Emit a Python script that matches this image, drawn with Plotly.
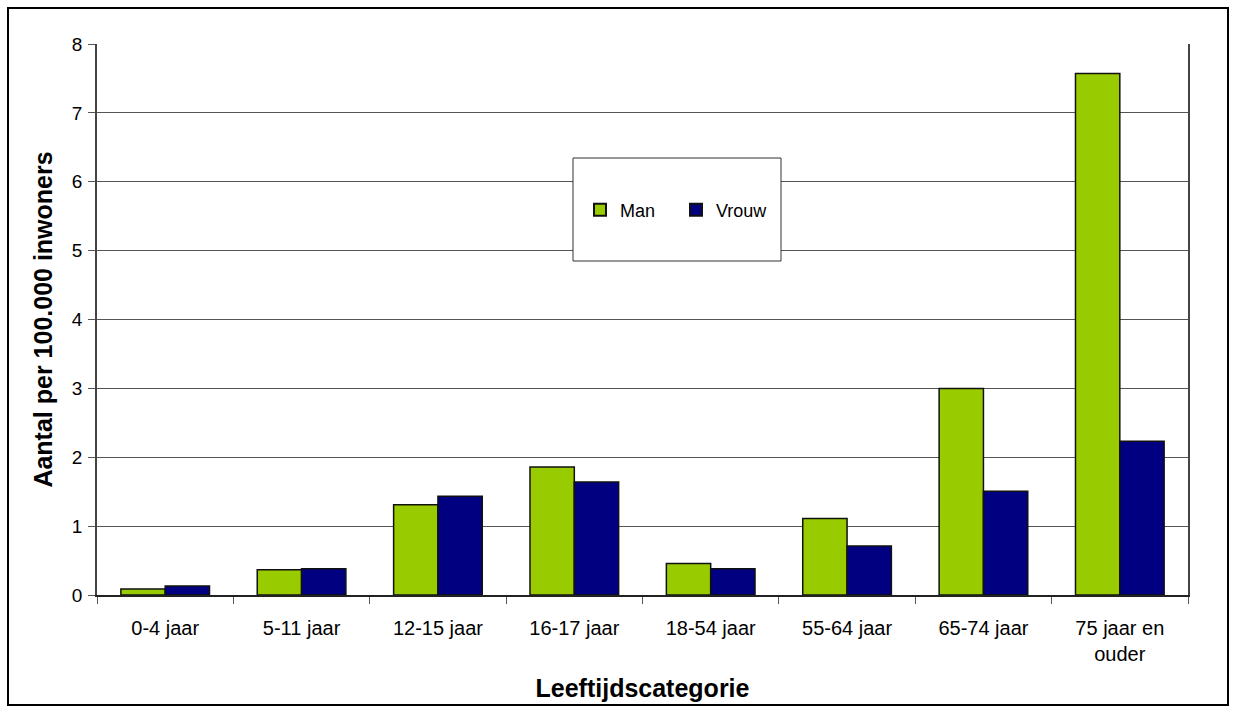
import plotly.graph_objects as go

categories = ["0-4 jaar", "5-11 jaar", "12-15 jaar", "16-17 jaar", "18-54 jaar",
              "55-64 jaar", "65-74 jaar", "75 jaar en<br>ouder"]
man = [0.087, 0.367, 1.31, 1.86, 0.456, 1.11, 3.0, 7.57]
vrouw = [0.13, 0.38, 1.435, 1.64, 0.38, 0.71, 1.505, 2.233]
y_ticks = [0, 1, 2, 3, 4, 5, 6, 7, 8]

W, H = 1235, 713
L, R, T, B = 97, 47, 44, 118
pw, ph = W - L - R, H - T - B


def px_x(x):
    return (x - L) / pw


def px_y(y):
    return (H - B - y) / ph


fig = go.Figure()
fig.add_trace(go.Bar(name="Man", x=categories, y=man,
                     marker=dict(color="#99CC00", line=dict(color="#111111", width=1.5))))
fig.add_trace(go.Bar(name="Vrouw", x=categories, y=vrouw,
                     marker=dict(color="#000080", line=dict(color="#111111", width=1.5))))

font_family = "Liberation Sans, Arial, sans-serif"

fig.update_layout(
    width=W, height=H,
    margin=dict(l=L, r=R, t=T, b=B, autoexpand=False),
    paper_bgcolor="white", plot_bgcolor="white",
    barmode="group", bargap=0.35, bargroupgap=0,
    font=dict(family=font_family, size=18, color="black"),
    showlegend=True,
    legend=dict(orientation="h", x=px_x(580), y=px_y(210), xanchor="left", yanchor="middle",
                bgcolor="rgba(0,0,0,0)", borderwidth=0, font=dict(size=18),
                entrywidth=51, entrywidthmode="pixels",
                itemsizing="constant", traceorder="normal"),
    xaxis=dict(
        showline=True, linecolor="#222222", linewidth=1.5,
        ticks="outside", ticklen=7, tickcolor="#555555", tickson="boundaries",
        showgrid=False, tickfont=dict(size=20), ticklabelstandoff=14,
        title=dict(text="<b>Leeftijdscategorie</b>", font=dict(size=25), standoff=16),
    ),
    yaxis=dict(
        range=[0, 8], tickvals=y_ticks, showline=True, linecolor="#444444", linewidth=1.5,
        mirror=True, ticks="outside", ticklen=7, tickcolor="#555555",
        showgrid=True, gridcolor="#555555", gridwidth=1, zeroline=False,
        tickfont=dict(size=19), ticklabelstandoff=2,
        title=dict(text="<b>Aantal per 100.000 inwoners</b>", font=dict(size=25), standoff=12),
    ),
    shapes=[
        # legend frame
        dict(type="rect", xref="paper", yref="paper",
             x0=px_x(573), x1=px_x(781), y0=px_y(261), y1=px_y(158),
             fillcolor="white", line=dict(color="#333333", width=1), layer="above"),
        # outer chart frame
        dict(type="rect", xref="paper", yref="paper",
             x0=px_x(8), x1=px_x(1228), y0=px_y(705), y1=px_y(8),
             line=dict(color="black", width=2), layer="above"),
    ],
)

fig.write_html("out.html")
